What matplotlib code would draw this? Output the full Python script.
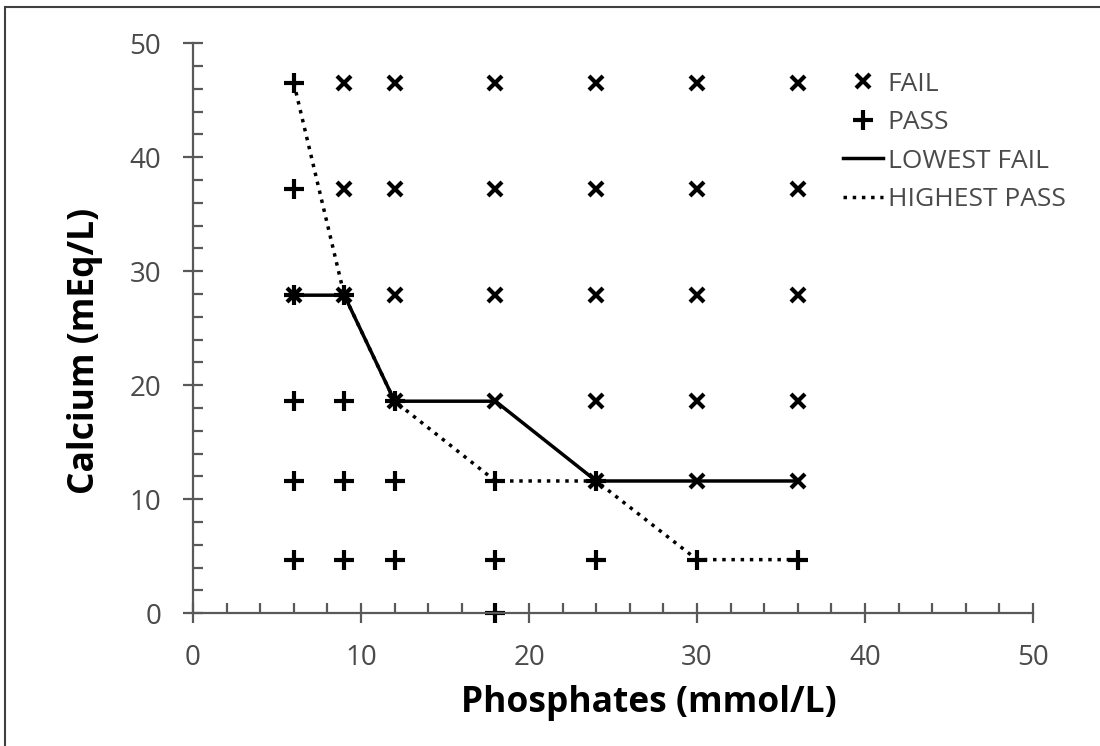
import matplotlib
matplotlib.use("Agg")
import matplotlib.pyplot as plt
from matplotlib.patches import Rectangle
from matplotlib.ticker import MultipleLocator

# ensayo calcio / fosfatos: resultados por combinacion
fail_x = [9, 12, 18, 24, 30, 36,
          9, 12, 18, 24, 30, 36,
          6, 9, 12, 18, 24, 30, 36,
          12, 18, 24, 30, 36,
          24, 30, 36]
fail_y = [46.5] * 6 + [37.2] * 6 + [27.9] * 7 + [18.6] * 5 + [11.6] * 3

pass_x = [6, 6, 6, 9, 6, 9, 12,
          6, 9, 12, 18, 24,
          6, 9, 12, 18, 24, 30, 36,
          18]
pass_y = ([46.5, 37.2, 27.9, 27.9, 18.6, 18.6, 18.6]
          + [11.6] * 5 + [4.7] * 7 + [0])

lowest_fail_x = [6, 9, 12, 18, 24, 30, 36]
lowest_fail_y = [27.9, 27.9, 18.6, 18.6, 11.6, 11.6, 11.6]
highest_pass_x = [6, 9, 12, 18, 24, 30, 36]
highest_pass_y = [46.5, 27.9, 18.6, 11.6, 11.6, 4.7, 4.7]

gris = "#595959"
texto = "#4a4a4a"
fuente = "Open Sans"

fig = plt.figure(figsize=(11, 7.46), dpi=100)
ax = fig.add_axes([0.1755, 0.178, 0.7636, 0.764])

ax.plot(fail_x, fail_y, linestyle="none", marker="x", color="black",
        markersize=10, markeredgewidth=3, label="FAIL", clip_on=False)
ax.plot(pass_x, pass_y, linestyle="none", marker="+", color="black",
        markersize=15, markeredgewidth=3, label="PASS", clip_on=False)
ax.plot(lowest_fail_x, lowest_fail_y, "-", color="black", lw=2.5,
        label="LOWEST FAIL")
ax.plot(highest_pass_x, highest_pass_y, ":", color="black", lw=2.5,
        label="HIGHEST PASS")

ax.set_xlim(0, 50)
ax.set_ylim(0, 50)
ax.xaxis.set_major_locator(MultipleLocator(10))
ax.xaxis.set_minor_locator(MultipleLocator(2))
ax.yaxis.set_major_locator(MultipleLocator(10))
ax.yaxis.set_minor_locator(MultipleLocator(2))

for s in ["top", "right"]:
    ax.spines[s].set_visible(False)
for s in ["left", "bottom"]:
    ax.spines[s].set_color(gris)
    ax.spines[s].set_linewidth(1.6)

ax.tick_params(which="major", direction="inout", length=14, width=1.6,
               color=gris, labelcolor=texto, labelsize=20)
ax.tick_params(axis="x", which="major", pad=15)
ax.tick_params(axis="y", which="major", pad=16)
ax.tick_params(which="minor", direction="in", length=7, width=1.6, color=gris)
for lab in ax.get_xticklabels() + ax.get_yticklabels():
    lab.set_family(fuente)

ax.set_xlabel("Phosphates (mmol/L)", fontsize=25.5, fontweight="bold",
              family=fuente)
ax.set_ylabel("Calcium (mEq/L)", fontsize=25.5, fontweight="bold",
              family=fuente)
ax.xaxis.set_label_coords(0.543, -0.126)
ax.yaxis.set_label_coords(-0.107, 0.461)

leg = ax.legend(loc="upper left", bbox_to_anchor=(843 / 1100, 0.904),
                bbox_transform=fig.transFigure, frameon=False,
                borderpad=0, borderaxespad=0,
                handlelength=1.5, handletextpad=0.2, labelspacing=0.51,
                prop={"family": fuente, "size": 19})
for t in leg.get_texts():
    t.set_color(texto)

# marco de la figura
fig.patches.append(Rectangle((5 / 1100, -0.1), 1.2, 1.1 - 7 / 746,
                             transform=fig.transFigure, fill=False,
                             edgecolor="#404040", lw=1.5))

fig.savefig("out.png", dpi=100)
